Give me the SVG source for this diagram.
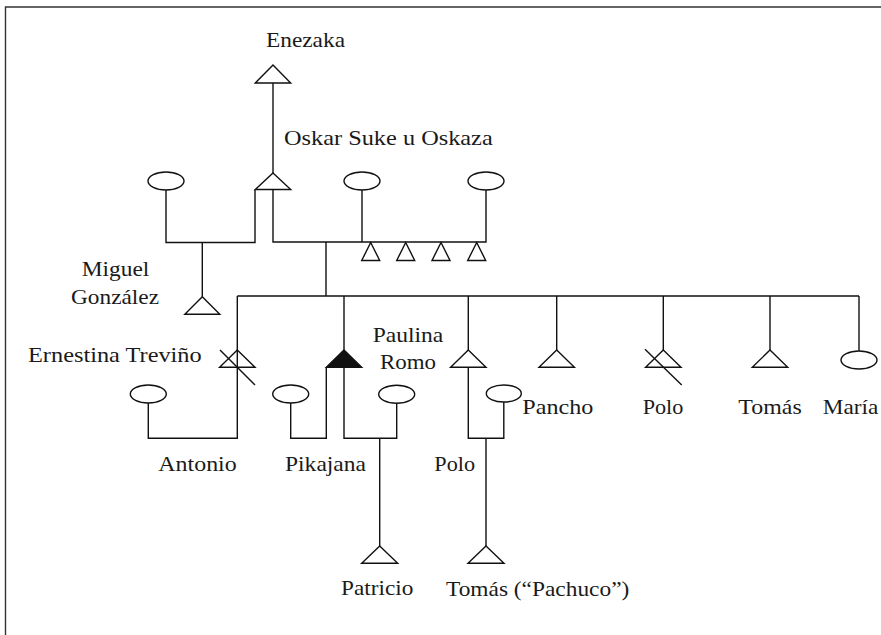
<svg xmlns="http://www.w3.org/2000/svg" width="881" height="635" viewBox="0 0 881 635">
<style>
.ln{fill:none;stroke:#111;stroke-width:1.4}
.sh{fill:#fff;stroke:#111;stroke-width:1.4}
.fl{fill:#111;stroke:#111;stroke-width:1.4}
text{font-family:"Liberation Serif","DejaVu Serif",serif;font-size:21px;font-weight:normal;fill:#1a1a1a}
</style>
<rect x="0" y="0" width="881" height="635" fill="#fff"/>
<path d="M5.5,635 V7 H881" fill="none" stroke="#333" stroke-width="1.4"/>
<g id="connectors">
<path class="ln" d="M273,83 V173"/>
<path class="ln" d="M166,190 V242.5 H255 V189.5"/>
<path class="ln" d="M202.3,242.5 V296.7"/>
<path class="ln" d="M273,189.5 V242 H486 V190"/>
<path class="ln" d="M362,190 V242"/>
<path class="ln" d="M326,242 V296"/>
<path class="ln" d="M237.3,296 H859"/>
<path class="ln" d="M237.3,296 V350"/>
<path class="ln" d="M344,296 V350"/>
<path class="ln" d="M468.3,296 V350"/>
<path class="ln" d="M556.7,296 V350"/>
<path class="ln" d="M663.3,296 V350"/>
<path class="ln" d="M770,296 V350"/>
<path class="ln" d="M859,296 V351"/>
<path class="ln" d="M148.3,403 V438.3 H237.3 V367.3"/>
<path class="ln" d="M290.7,403 V438.3 H326.3 V367.3"/>
<path class="ln" d="M396.7,403 V438.3 H344 V367.3"/>
<path class="ln" d="M379.7,438.3 V546"/>
<path class="ln" d="M503.8,402 V438.3 H468.3 V367.3"/>
<path class="ln" d="M486,438.3 V546"/>
</g>
<g id="enezaka"><path class="sh" d="M273,65 L290.7,83 H255.3 Z"/><text x="266" y="47" textLength="79" lengthAdjust="spacingAndGlyphs">Enezaka</text></g>
<g id="oskar"><path class="sh" d="M273,173 L290.7,189.5 H255.3 Z"/><text x="284" y="145" textLength="208.7" lengthAdjust="spacingAndGlyphs">Oskar Suke u Oskaza</text></g>
<g id="wife1"><ellipse class="sh" cx="166" cy="181" rx="18" ry="9"/></g>
<g id="wife2"><ellipse class="sh" cx="362" cy="181" rx="18" ry="9"/></g>
<g id="wife3"><ellipse class="sh" cx="486" cy="181" rx="18" ry="9"/></g>
<g id="miguel"><path class="sh" d="M202.3,296.7 L219.8,314.3 H184.8 Z"/><text x="81.7" y="276" textLength="67.6" lengthAdjust="spacingAndGlyphs">Miguel</text><text x="71" y="304" textLength="88" lengthAdjust="spacingAndGlyphs">González</text></g>
<g id="sons4">
<path class="sh" d="M370.7,242.5 L379.7,260.5 H361.7 Z"/>
<path class="sh" d="M405.7,242.5 L414.7,260.5 H396.7 Z"/>
<path class="sh" d="M441,242.5 L450,260.5 H432 Z"/>
<path class="sh" d="M476.7,242.5 L485.7,260.5 H467.7 Z"/>
</g>
<g id="antonio"><path class="sh" d="M237.3,350 L255,367.3 H219.6 Z"/><path class="ln" d="M237.3,350 V367.3"/><path class="ln" d="M220,350 L255,385"/><text x="158.3" y="470.7" textLength="78.4" lengthAdjust="spacingAndGlyphs">Antonio</text></g>
<g id="ernestina"><ellipse class="sh" cx="148.3" cy="394" rx="18" ry="9"/><text x="28" y="362" textLength="173.7" lengthAdjust="spacingAndGlyphs">Ernestina Treviño</text></g>
<g id="pikajana"><path class="fl" d="M344,350 L361.7,367.3 H326.3 Z"/><text x="285" y="470.7" textLength="81" lengthAdjust="spacingAndGlyphs">Pikajana</text></g>
<g id="pwife1"><ellipse class="sh" cx="290.7" cy="394" rx="18" ry="9"/></g>
<g id="paulina"><ellipse class="sh" cx="396.7" cy="394.3" rx="18" ry="9"/><text x="372.7" y="341.7" textLength="70.6" lengthAdjust="spacingAndGlyphs">Paulina</text><text x="380" y="369.3" textLength="56" lengthAdjust="spacingAndGlyphs">Romo</text></g>
<g id="patricio"><path class="sh" d="M379.7,546 L397.7,563.3 H361.7 Z"/><text x="341" y="595" textLength="72.3" lengthAdjust="spacingAndGlyphs">Patricio</text></g>
<g id="polo1"><path class="sh" d="M468.3,350 L486,367.3 H450.6 Z"/><text x="434.3" y="470.7" textLength="40.7" lengthAdjust="spacingAndGlyphs">Polo</text></g>
<g id="polowife"><ellipse class="sh" cx="503.8" cy="393.5" rx="17.5" ry="8.5"/></g>
<g id="tomas-pachuco"><path class="sh" d="M486,546 L504,563.3 H468 Z"/><text x="446" y="596" textLength="183.3" lengthAdjust="spacingAndGlyphs">Tomás (“Pachuco”)</text></g>
<g id="pancho"><path class="sh" d="M556.7,350 L574.4,367.3 H539 Z"/><text x="522.3" y="414" textLength="71" lengthAdjust="spacingAndGlyphs">Pancho</text></g>
<g id="polo2"><path class="sh" d="M663.3,350 L681,367.3 H645.6 Z"/><path class="ln" d="M645,349.3 L681.7,385"/><text x="642.7" y="414" textLength="40.7" lengthAdjust="spacingAndGlyphs">Polo</text></g>
<g id="tomas"><path class="sh" d="M770,350 L787.7,367.3 H752.3 Z"/><text x="738.3" y="414" textLength="63.4" lengthAdjust="spacingAndGlyphs">Tomás</text></g>
<g id="maria"><ellipse class="sh" cx="859" cy="360" rx="18" ry="9"/><text x="822.7" y="414" textLength="55.6" lengthAdjust="spacingAndGlyphs">María</text></g>
</svg>
